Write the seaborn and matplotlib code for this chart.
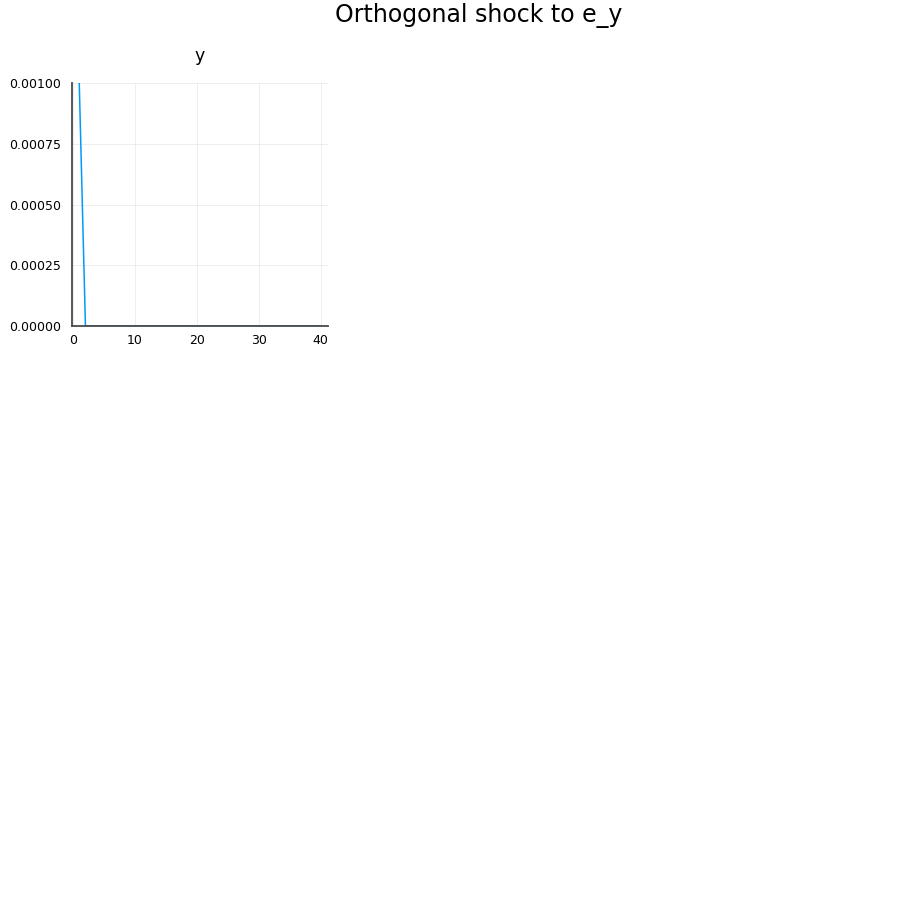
import matplotlib
matplotlib.use("Agg")
import matplotlib.pyplot as plt
import seaborn as sns
import pandas as pd

periods = [1, 2, 3, 4, 5, 6, 7, 8, 9, 10, 11, 12, 13, 14, 15, 16, 17, 18, 19, 20,
           21, 22, 23, 24, 25, 26, 27, 28, 29, 30, 31, 32, 33, 34, 35, 36, 37, 38, 39, 40]
response_y = [0.001, 0.0, 0.0, 0.0, 0.0, 0.0, 0.0, 0.0, 0.0, 0.0,
              0.0, 0.0, 0.0, 0.0, 0.0, 0.0, 0.0, 0.0, 0.0, 0.0,
              0.0, 0.0, 0.0, 0.0, 0.0, 0.0, 0.0, 0.0, 0.0, 0.0,
              0.0, 0.0, 0.0, 0.0, 0.0, 0.0, 0.0, 0.0, 0.0, 0.0]
xticks = [0, 10, 20, 30, 40]
yticks = [0.0, 0.00025, 0.0005, 0.00075, 0.001]
ytick_labels = ["0.00000", "0.00025", "0.00050", "0.00075", "0.00100"]

sns.set_style("white")
plt.rcParams['font.family'] = ['DejaVu Sans']

df = pd.DataFrame({"t": periods, "y": response_y})

fig = plt.figure(figsize=(8.99, 8.99), dpi=100)
W, H = 899, 899
ax = fig.add_axes([72 / W, 1 - 326 / H, (328 - 72) / W, (326 - 83) / H])

sns.lineplot(data=df, x="t", y="y", ax=ax, color="#009AFA", linewidth=1.1)

ax.set_xlim(-0.17, 41.17)
ax.set_ylim(0.0, 0.001)
ax.set_xticks(xticks)
ax.set_xticklabels([str(v) for v in xticks])
ax.set_yticks(yticks)
ax.set_yticklabels(ytick_labels)
ax.grid(True, color="#000000", alpha=0.08, linewidth=0.6)
ax.set_xlabel("")
ax.set_ylabel("")
for s in ["top", "right"]:
    ax.spines[s].set_visible(False)
for s in ["left", "bottom"]:
    ax.spines[s].set_color("#4a4a4a")
    ax.spines[s].set_linewidth(1.3)
ax.tick_params(axis="both", labelsize=9, direction="in", length=3,
               color="#4a4a4a", width=0.8, labelcolor="black")
ax.tick_params(axis="y", pad=8)
ax.tick_params(axis="x", pad=6)
ax.set_title("y", fontsize=12.5, pad=16, color="black")

fig.text(479 / W, 1 - 15 / H, "Orthogonal shock to e_y", ha="center", va="center",
         fontsize=17, color="black")

fig.savefig("out.png", dpi=100)
